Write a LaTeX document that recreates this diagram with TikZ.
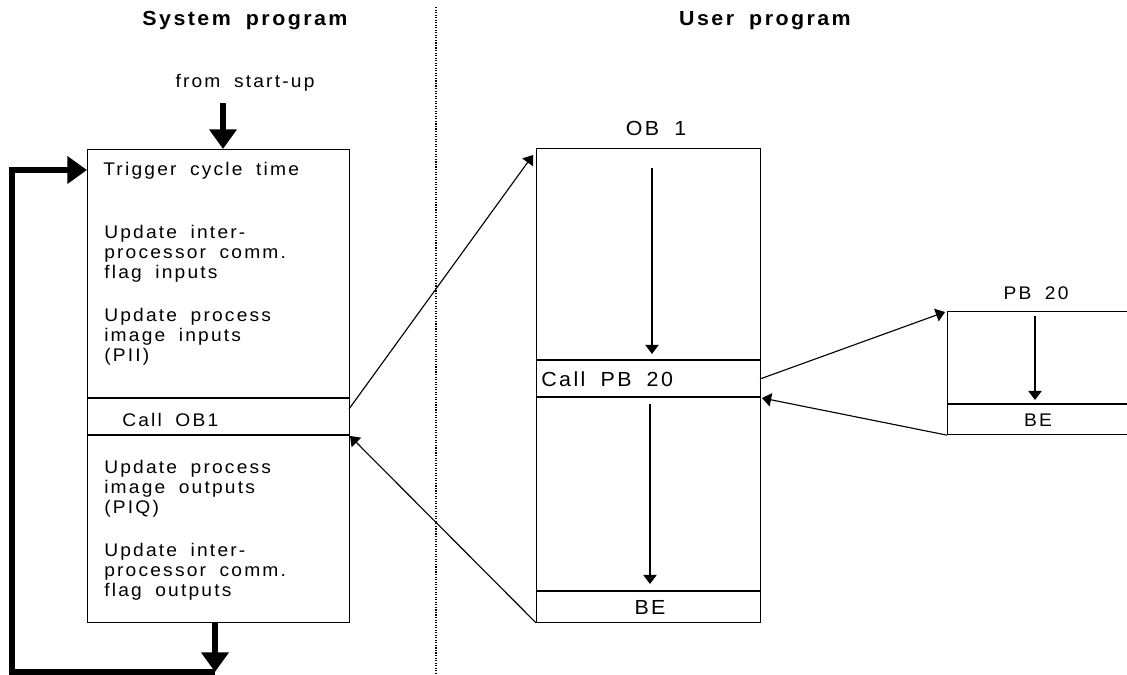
\documentclass[tikz,border=0pt]{standalone}
\usepackage{fontspec}
\setmainfont{Liberation Sans}[LetterSpace=12,WordSpace=1.8,FakeStretch=1.05]
\usetikzlibrary{arrows.meta}

\begin{document}
\begin{tikzpicture}[
  x=0.025cm, y=-0.025cm,
  font=\fontsize{13}{14.4}\selectfont,
  blk/.style={draw, line width=0.8pt, anchor=north west, inner sep=0pt},
  txt/.style={anchor=base west, align=left, inner sep=0pt},
  lbl/.style={anchor=base, inner sep=0pt},
  larger/.style={font=\fontsize{14.5}{16}\selectfont},
  heading/.style={anchor=base, inner sep=0pt, font=\fontsize{14.5}{16}\selectfont\bfseries},
  divline/.style={line width=0.8pt},
  flow/.style={-{Triangle[length=6.5pt,width=9.5pt]}, line width=0.8pt},
  bigflow/.style={-{Triangle[length=14pt,width=19pt]}, line width=4pt}
]
\useasboundingbox (0,0) rectangle (1127,675);

% headings and divider
\node[heading] (systitle) at (245,26) {System program};
\node[heading] (usertitle) at (765,26) {User program};
\coordinate (divtop) at (436,7);
\coordinate (divbot) at (436,675);
\draw[densely dotted, line width=0.8pt] (divtop) -- (divbot);

% system program
\node[lbl] (startup) at (245,88) {from start-up};
\coordinate (startin) at (223,103);
\node[blk, minimum width=6.55cm, minimum height=11.825cm] (sys) at (87,149) {};
\draw[bigflow] (startin) -- (startin |- sys.north);

\coordinate (callA) at (87,398);
\coordinate (callB) at (87,435);
\draw[divline] (callA) -- (callA -| sys.east);
\draw[divline] (callB) -- (callB -| sys.east);

% multi-line texts sit on the baseline of their last line
\node[txt] (trig) at (103,176) {Trigger cycle time};
\node[txt] (ipcin) at (104,279) {Update inter-\\processor comm.\\flag inputs};
\node[txt] (pii) at (104,362) {Update process\\image inputs\\(PII)};
\node[txt] (callob) at (122,427) {Call OB1};
\node[txt] (piq) at (104,514) {Update process\\image outputs\\(PIQ)};
\node[txt] (ipcout) at (104,597) {Update inter-\\processor comm.\\flag outputs};

% cycle back to the top
\coordinate (back) at (215,672);
\coordinate (loopnw) at (12,170);
\draw[bigflow] (back |- sys.south) -- (back);
\draw[bigflow, line join=miter] (back) -| (loopnw) -- (loopnw -| sys.west);

% user program: OB 1
\node[lbl, larger] (obname) at (656,136) {OB 1};
\node[blk, minimum width=5.6cm, minimum height=11.84cm] (ob) at (536,148) {};
\coordinate (obA) at (536,360);
\coordinate (obB) at (536,397);
\coordinate (obC) at (536,591);
\draw[divline] (obA) -- (obA -| ob.east);
\draw[divline] (obB) -- (obB -| ob.east);
\draw[divline] (obC) -- (obC -| ob.east);
\node[txt, larger] (callpb) at (541,387) {Call PB 20};
\node[lbl, larger] (obend) at (650,614) {BE};
\coordinate (obrunA) at (652,168);
\coordinate (obrunAe) at (652,354);
\coordinate (obrunB) at (650,404);
\coordinate (obrunBe) at (650,584);
\draw[flow] (obrunA) -- (obrunAe);
\draw[flow] (obrunB) -- (obrunBe);

% user program: PB 20
\node[lbl] (pbname) at (1036,300) {PB 20};
\node[blk, minimum width=4.9cm, minimum height=3.075cm] (pb) at (947,311) {};
\coordinate (pbA) at (947,404);
\draw[divline] (pbA) -- (pbA -| pb.east);
\node[lbl] (pbend) at (1038,427) {BE};
\coordinate (pbrun) at (1035,316);
\coordinate (pbrune) at (1035,400);
\draw[flow] (pbrun) -- (pbrune);

% calls and returns
\coordinate (callout) at (349,409);
\coordinate (obentry) at (533,155);
\coordinate (sysret) at (350,436);
\coordinate (pbcall) at (760,379);
\coordinate (pbentry) at (945,312);
\coordinate (obret) at (762,398);
\draw[flow] (callout) -- (obentry);
\draw[flow] (ob.south west) -- (sysret);
\draw[flow] (pbcall) -- (pbentry);
\draw[flow] (pb.south west) -- (obret);

\end{tikzpicture}
\end{document}
